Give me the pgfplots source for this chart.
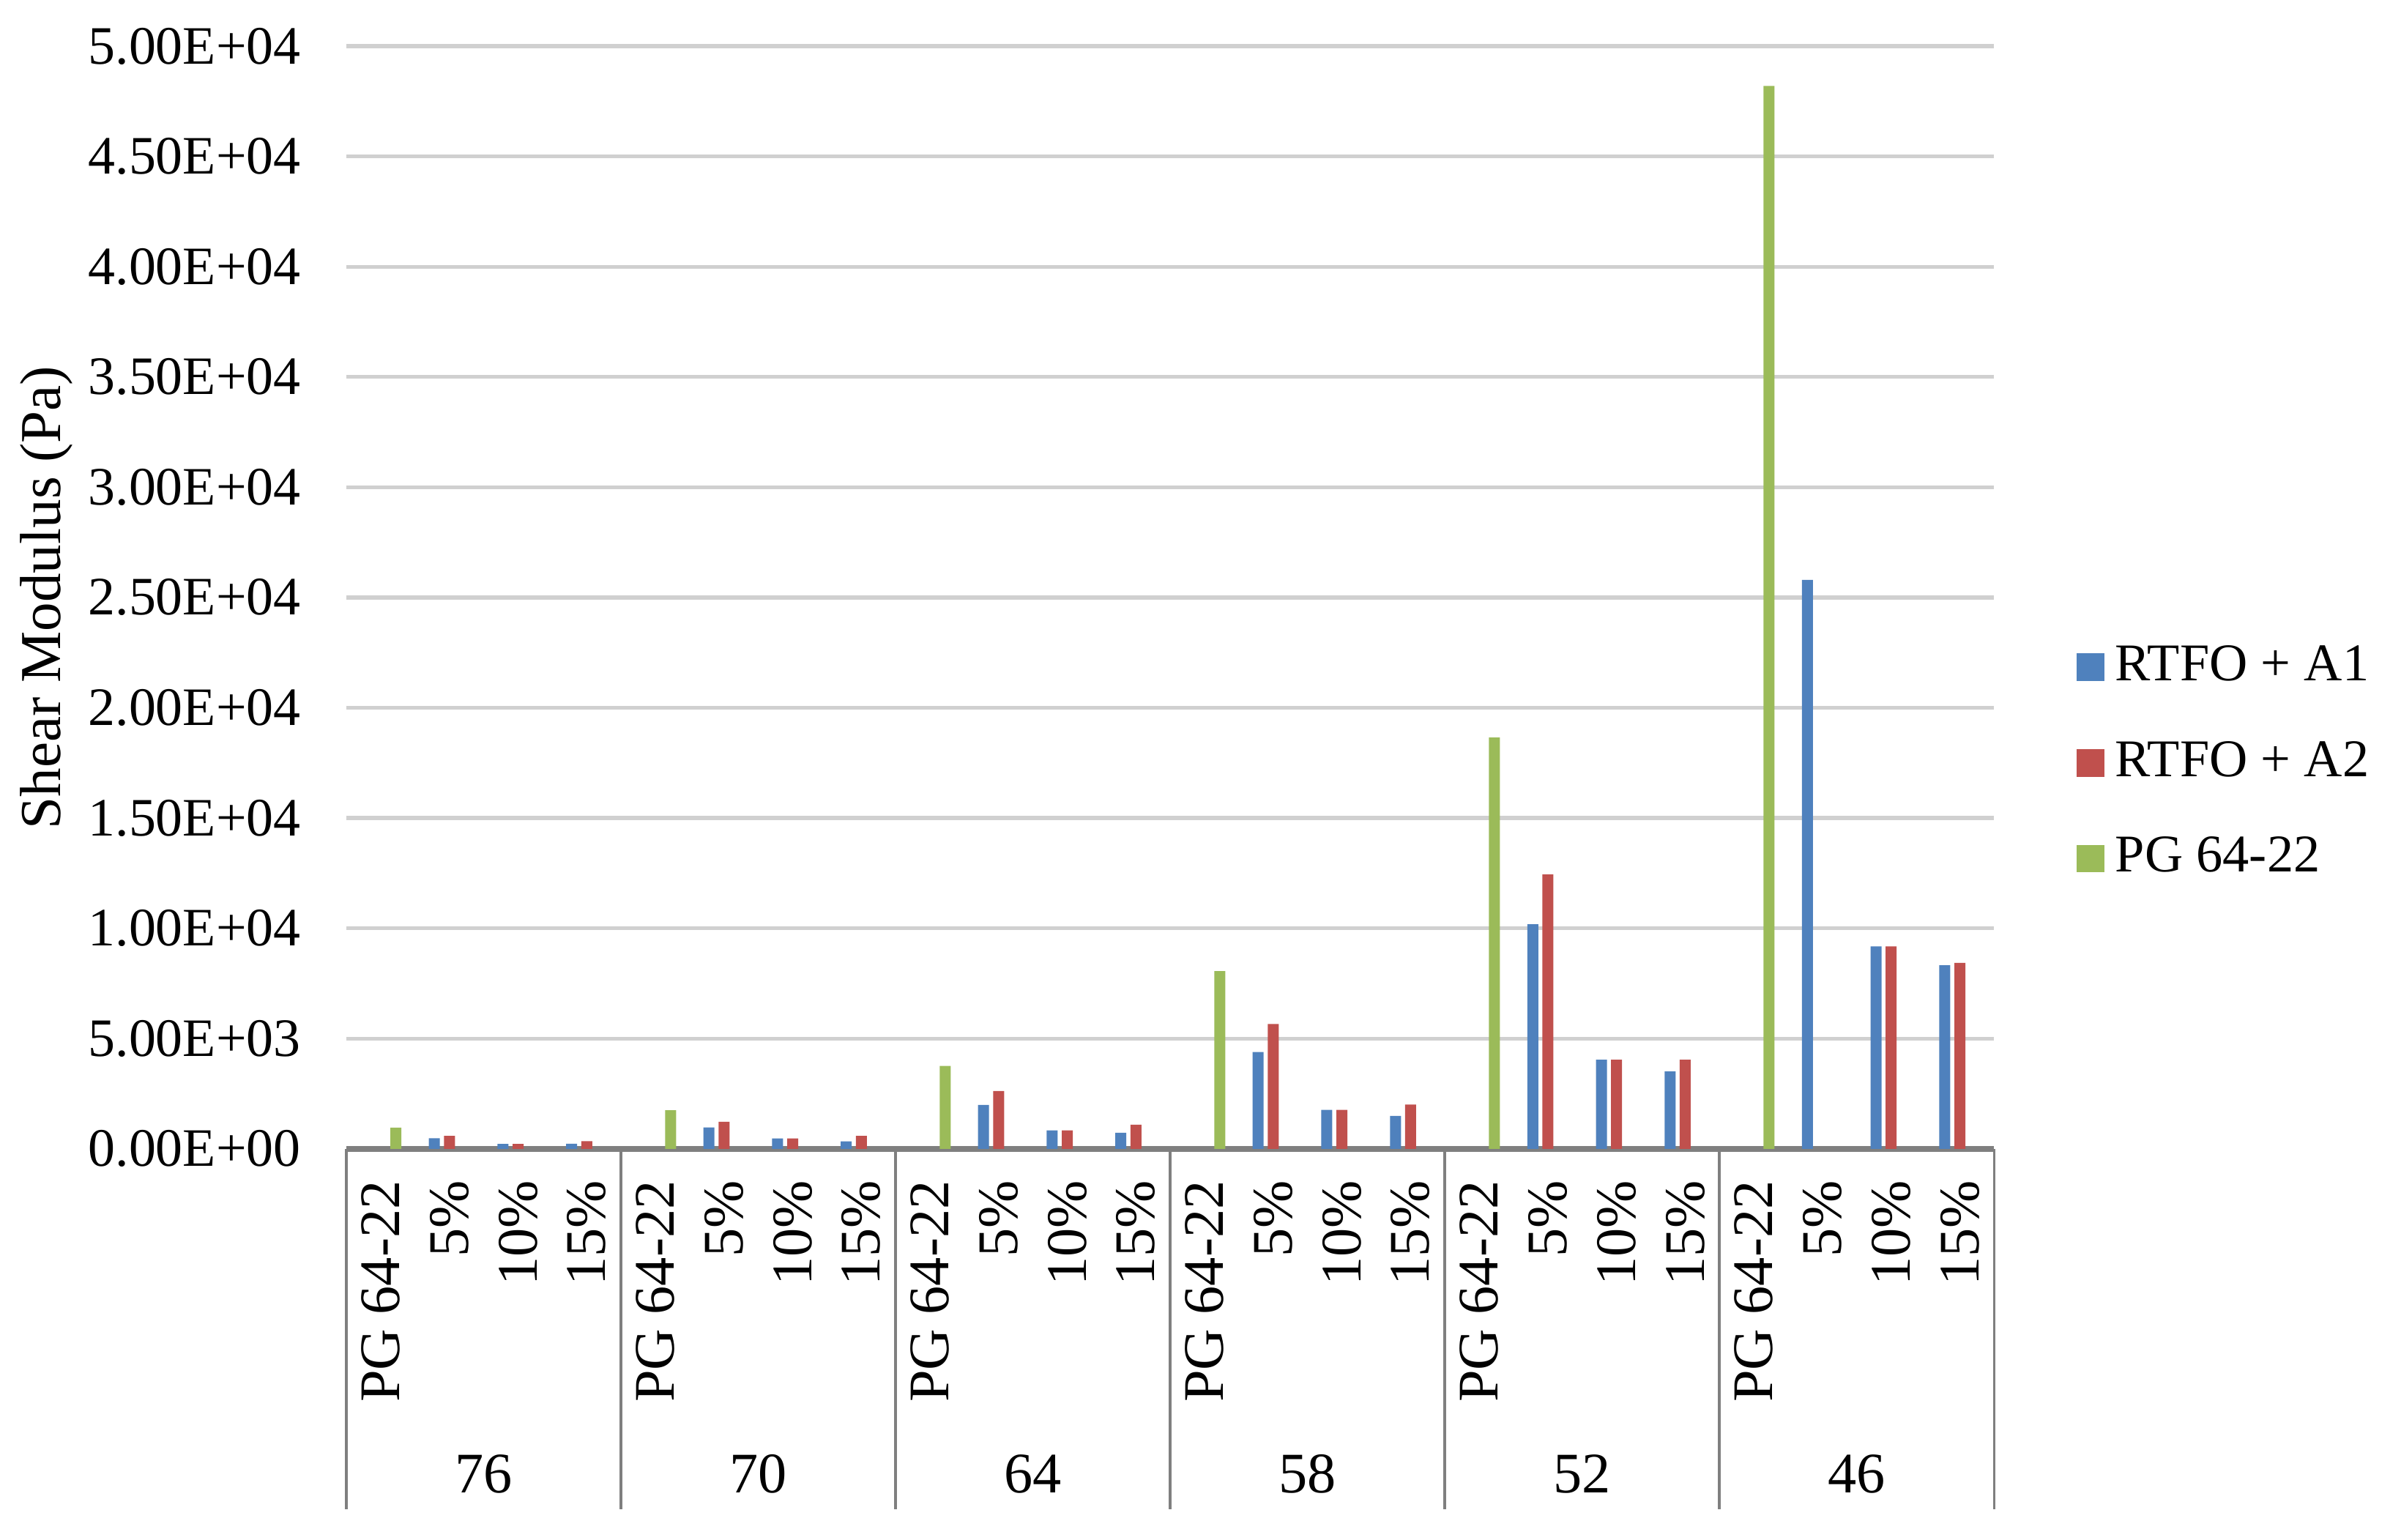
\documentclass[border=0pt]{standalone}
\usepackage{fontspec}
\setmainfont{Liberation Serif}
\usepackage{pgfplots}
\pgfplotsset{compat=1.18}
\definecolor{cA}{HTML}{4F81BD}
\definecolor{cB}{HTML}{C0504D}
\definecolor{cC}{HTML}{9BBB59}
\definecolor{gridgray}{HTML}{D0D0D0}
\definecolor{axgray}{HTML}{7F7F7F}
\begin{document}
\begin{tikzpicture}
\begin{axis}[
  at={(0,0)}, anchor=south west,
  scale only axis, width=107.0mm, height=71.6mm,
  clip=false,
  xmin=-0.5, xmax=23.5, ymin=0, ymax=50000,
  ybar=0.27mm, bar width=0.16,
  axis x line*=bottom, axis y line*=left,
  y axis line style={draw=none},
  x axis line style={draw=axgray, line width=1pt},
  ytick={0,5000,10000,15000,20000,25000,30000,35000,40000,45000,50000},
  yticklabels={0.00E+00,5.00E+03,1.00E+04,1.50E+04,2.00E+04,2.50E+04,3.00E+04,3.50E+04,4.00E+04,4.50E+04,5.00E+04},
  scaled y ticks=false,
  ymajorgrids, grid style={draw=gridgray, line width=0.7pt},
  major tick length=0pt,
  tick style={draw=axgray, line width=0.5pt},
  yticklabel style={font=\fontsize{10}{12}\selectfont, anchor=east, inner sep=0pt},
  yticklabel shift=2.9mm,
  xtick={0,...,23},
  xticklabels={PG 64-22,5\%,10\%,15\%,PG 64-22,5\%,10\%,15\%,PG 64-22,5\%,10\%,15\%,PG 64-22,5\%,10\%,15\%,PG 64-22,5\%,10\%,15\%,PG 64-22,5\%,10\%,15\%},
  xticklabel style={font=\fontsize{10.6}{12}\selectfont, rotate=90, anchor=east, inner sep=0pt},
  xticklabel shift=2.0mm,
  extra x ticks={-0.5,3.5,7.5,11.5,15.5,19.5,23.5},
  extra x tick labels={},
  extra x tick style={grid=none, major tick length=23.4mm, tick align=outside},
  legend style={at={(1,0.35)}, anchor=west, xshift=5.3mm, draw=none, fill=none,
    font=\fontsize{9.8}{11}\selectfont, row sep=2mm, inner sep=0pt},
  legend cell align=left,
  legend image code/.code={\fill[#1] (0mm,-0.9mm) rectangle (1.8mm,0.9mm);},
]
\addplot[fill=cA, draw=none] coordinates {
 (1,480) (2,220) (3,230)
 (5,970) (6,470) (7,335)
 (9,1990) (10,840) (11,725)
 (13,4390) (14,1770) (15,1490)
 (17,10180) (18,4040) (19,3510)
 (21,25800) (22,9180) (23,8320)};
\addplot[fill=cB, draw=none] coordinates {
 (1,590) (2,223) (3,350)
 (5,1230) (6,470) (7,590)
 (9,2620) (10,840) (11,1090)
 (13,5660) (14,1770) (15,2010)
 (17,12440) (18,4040) (19,4040)
 (22,9180) (23,8430)};
\addplot[fill=cC, draw=none] coordinates {
 (0,960) (4,1750) (8,3760) (12,8060) (16,18650) (20,48200)};
\legend{RTFO + A1, RTFO + A2, PG 64-22}
\node[font=\fontsize{10.6}{12}\selectfont] at (axis cs:1.5,0) [yshift=-21.1mm] {76};
\node[font=\fontsize{10.6}{12}\selectfont] at (axis cs:5.5,0) [yshift=-21.1mm] {70};
\node[font=\fontsize{10.6}{12}\selectfont] at (axis cs:9.5,0) [yshift=-21.1mm] {64};
\node[font=\fontsize{10.6}{12}\selectfont] at (axis cs:13.5,0) [yshift=-21.1mm] {58};
\node[font=\fontsize{10.6}{12}\selectfont] at (axis cs:17.5,0) [yshift=-21.1mm] {52};
\node[font=\fontsize{10.6}{12}\selectfont] at (axis cs:21.5,0) [yshift=-21.1mm] {46};
\end{axis}
\node[rotate=90, font=\fontsize{10.7}{12}\selectfont] at (-19.5mm,35.8mm) {Shear Modulus (Pa)};
\pgfresetboundingbox
\useasboundingbox (-22.5mm,-25.4mm) rectangle (133.42mm,74.6mm);
\end{tikzpicture}
\end{document}
